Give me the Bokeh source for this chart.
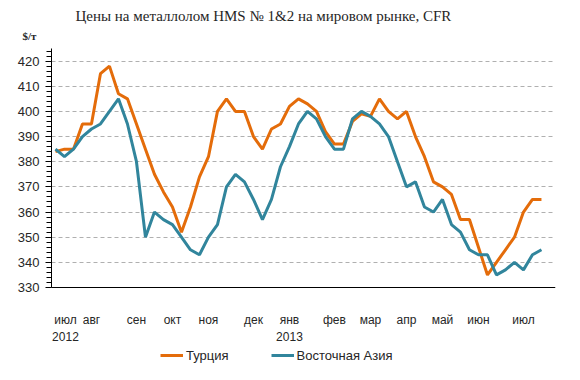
from bokeh.plotting import figure
from bokeh.models import (FixedTicker, Range1d, Legend, LegendItem, Title, Span,
                          ColumnDataSource)
from bokeh.core.properties import value
from bokeh.embed import file_html
from bokeh.resources import INLINE

# weekly observations, Jul 2012 - Jul 2013 (index = week number)
weeks = list(range(55))
turkey = [384, 385, 385, 395, 395, 415, 418, 407, 405, 395,
          385, 375, 368, 362, 352, 362, 374, 382, 400, 405,
          400, 400, 390, 385, 393, 395, 402, 405, 403, 400,
          392, 387, 387, 396, 399, 398, 405, 400, 397, 400,
          390, 382, 372, 370, 367, 357, 357, 346, 335, 340,
          345, 350, 360, 365, 365]
east_asia = [385, 382, 385, 390, 393, 395, 400, 405, 395, 380,
             350, 360, 357, 355, 350, 345, 343, 350, 355, 370,
             375, 372, 365, 357, 365, 378, 386, 395, 400, 397,
             390, 385, 385, 397, 400, 398, 395, 390, 380, 370,
             372, 362, 360, 365, 355, 352, 345, 343, 343, 335,
             337, 340, 337, 343, 345]

month_ticks = [0, 4, 9, 13, 17, 22, 26, 31, 35, 39, 43, 47, 52]
month_labels = ["июл\n2012", "авг", "сен", "окт", "ноя", "дек", "янв\n2013",
                "фев", "мар", "апр", "май", "июн", "июл"]
y_base = 330
y_top = 425
y_ticks = list(range(330, 421, 10))
y_minor = list(range(330, 425, 2))

title_text = "Цены на металлолом HMS № 1&2 на мировом рынке, CFR"
unit_text = "$/т"
series_names = ["Турция", "Восточная Азия"]
colors = ["#E46C0A", "#31859C"]

# frame extends below the value axis to hold month labels and the legend
px_per_unit = 239 / (y_top - y_base)
y_bottom = y_top - 324 / px_per_unit

p = figure(frame_width=504, frame_height=324, output_backend="svg",
           toolbar_location=None, x_axis_location=None,
           x_range=Range1d(-0.44, 55.56), y_range=Range1d(y_bottom, y_top),
           min_border_left=51, min_border_right=17, min_border_top=48,
           min_border_bottom=0, title=None)
p.outline_line_color = None
p.background_fill_color = "white"
p.border_fill_color = "white"

# value axis
p.yaxis.bounds = (y_base, y_top)
p.yaxis.ticker = FixedTicker(ticks=y_ticks, minor_ticks=y_minor)
p.yaxis.axis_line_color = "black"
p.yaxis.major_tick_line_color = "black"
p.yaxis.minor_tick_line_color = "black"
p.yaxis.major_tick_in = 0
p.yaxis.major_tick_out = 6
p.yaxis.minor_tick_in = 0
p.yaxis.minor_tick_out = 5
p.yaxis.major_label_standoff = 6
p.yaxis.major_label_text_font = "Liberation Sans"
p.yaxis.major_label_text_font_size = "13px"
p.yaxis.major_label_text_color = "#262626"

p.xgrid.grid_line_color = None
p.ygrid.grid_line_color = "#B0B0B0"
p.ygrid.grid_line_dash = "4 3"
p.ygrid.grid_line_width = 1

# category (time) axis line and month labels
p.add_layout(Span(location=y_base, dimension="width", line_color="black",
                  line_width=1))
label_shift = [10] + [0] * (len(month_ticks) - 1)   # keep first label inside
lab_src = ColumnDataSource(dict(x=month_ticks, y=[y_base] * len(month_ticks),
                                text=month_labels, dx=label_shift))
p.text(x="x", y="y", text="text", source=lab_src, x_offset="dx", y_offset=25,
       text_align="center", text_baseline="top",
       text_font=value("Liberation Sans"), text_font_size="12px",
       text_line_height=1.25, text_color="#262626")

r1 = p.line(weeks, turkey, line_color=colors[0], line_width=3)
r2 = p.line(weeks, east_asia, line_color=colors[1], line_width=3)

# unit label (closest to frame) and chart title
p.add_layout(Title(text=unit_text, align="left", offset=-29, standoff=14,
                   text_font="Liberation Serif", text_font_size="11px",
                   text_font_style="bold", text_color="#262626"), "above")
p.add_layout(Title(text=title_text, align="left", offset=24, standoff=-6,
                   text_font="Liberation Serif", text_font_size="15px",
                   text_font_style="normal", text_color="#262626"), "above")

legend = Legend(items=[LegendItem(label=series_names[0], renderers=[r1]),
                       LegendItem(label=series_names[1], renderers=[r2])],
                orientation="horizontal", location=(109, 7),
                glyph_width=23, glyph_height=20, label_standoff=3, spacing=42,
                padding=0, margin=0, border_line_color=None,
                background_fill_alpha=0,
                label_text_font="Liberation Sans", label_text_font_size="13px",
                label_text_color="#262626")
p.add_layout(legend, "center")

open("out.html", "w").write(file_html(p, INLINE))
